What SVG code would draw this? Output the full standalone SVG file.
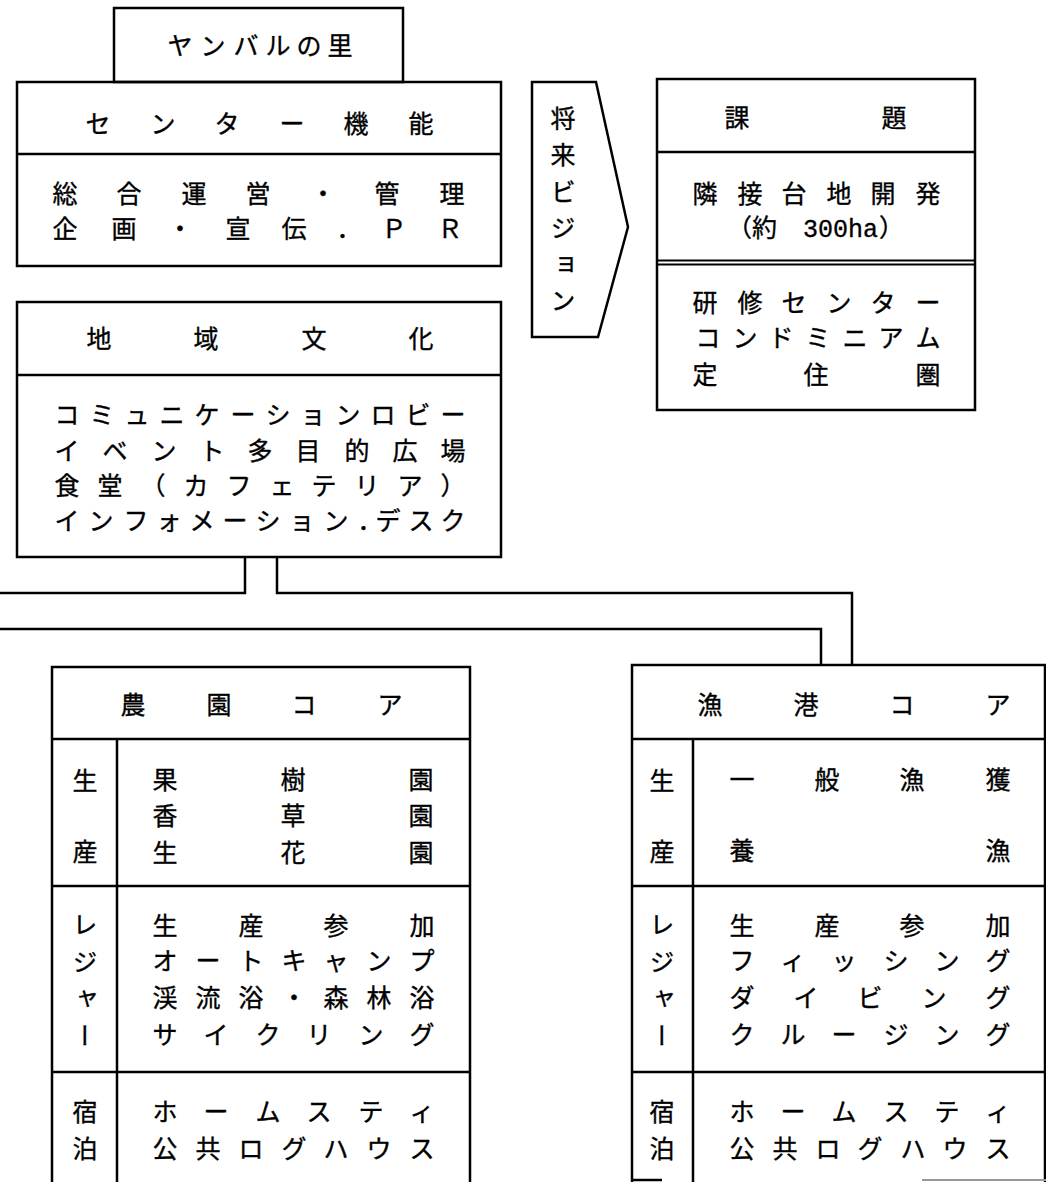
<svg xmlns="http://www.w3.org/2000/svg" width="1046" height="1182" viewBox="0 0 1046 1182">
<style>
.b{fill:none;stroke:#000;stroke-width:2.5}
.c{fill:none;stroke:#000;stroke-width:2.5}
.t{font-family:"Noto Sans CJK JP","Noto Sans CJK SC",sans-serif;font-size:25px;fill:#000;stroke:#000;stroke-width:0.35;text-anchor:middle}
.v{font-family:"Noto Sans CJK JP","Noto Sans CJK SC",sans-serif;font-size:25px;fill:#000;stroke:#000;stroke-width:0.35;writing-mode:vertical-rl;text-anchor:start}
</style>
<rect width="1046" height="1182" fill="#fff"/>
<g id="connectors">
<path class="c" d="M245,557 V593 H0"/>
<path class="c" d="M277,557 V593 H852 V665"/>
<path class="c" d="M0,629 H821 V665"/>
</g>
<g id="yanbaru">
<rect class="b" x="114" y="8" width="289" height="74"/>
<text class="t" x="180 213 246 278 309 340" y="55">ヤンバルの里</text>
</g>
<g id="center">
<rect class="b" x="17" y="82" width="484" height="184"/>
<line class="b" x1="17" y1="154" x2="501" y2="154"/>
<text class="t" x="98 163 227 292 356 421" y="133">センター機能</text>
<text class="t" x="65 129 194 258 323 387 452" y="203">総合運営・管理</text>
<text class="t" x="65 124 180 238 294 349 394 450" y="238">企画・宣伝．ＰＲ</text>
</g>
<g id="vision">
<polygon class="b" points="532,82 596,82 628,227 598,337 532,337"/>
<text class="v" x="563" y="105.5" letter-spacing="11.6">将来ビジョン</text>
</g>
<g id="kadai">
<rect class="b" x="657" y="79" width="318" height="331"/>
<line class="b" x1="657" y1="152" x2="975" y2="152"/>
<line stroke="#000" stroke-width="1.8" x1="657" y1="260.5" x2="975" y2="260.5"/>
<line stroke="#000" stroke-width="1.8" x1="657" y1="264.5" x2="975" y2="264.5"/>
<text class="t" x="737 894" y="127">課題</text>
<text class="t" x="705 750 794 839 883 928" y="203">隣接台地開発</text>
<text class="t" y="237" style="text-anchor:start"><tspan x="727">（約</tspan><tspan x="803" style="font-family:'Liberation Mono',monospace;font-size:25px">300ha</tspan><tspan x="879">）</tspan></text>
<text class="t" x="705 750 794 839 883 928" y="312">研修センター</text>
<text class="t" x="708 745 781 818 855 891 928" y="347">コンドミニアム</text>
<text class="t" x="705 816 928" y="384">定住圏</text>
</g>
<g id="chiiki">
<rect class="b" x="17" y="302" width="484" height="255"/>
<line class="b" x1="17" y1="375" x2="501" y2="375"/>
<text class="t" x="99 206 314 421" y="348">地域文化</text>
<text class="t" x="67 102 137 172 207 243 278 313 348 383 418 453" y="424">コミュニケーションロビー</text>
<text class="t" x="67 115 164 212 260 308 357 405 453" y="460">イベント多目的広場</text>
<text class="t" x="67 110 153 196 239 282 324 367 410 453" y="495">食堂（カフェテリア）</text>
<text class="t" x="67 101 136 169 202 235 268 302 336 370 388 421 453" y="530">インフォメーション．デスク</text>
</g>
<g id="noen">
<path class="b" d="M52,1182 V667 H470 V1182"/>
<line class="b" x1="52" y1="739" x2="470" y2="739"/>
<line class="b" x1="52" y1="886" x2="470" y2="886"/>
<line class="b" x1="52" y1="1072" x2="470" y2="1072"/>
<line class="b" x1="117" y1="739" x2="117" y2="1182"/>
<text class="t" x="133 219 304 390" y="714">農園コア</text>
<text class="v" x="85" y="767.5" letter-spacing="46">生産</text>
<text class="t" x="165 293 421" y="789">果樹園</text>
<text class="t" x="165 293 421" y="825">香草園</text>
<text class="t" x="165 293 421" y="862">生花園</text>
<text class="v" x="85" y="911.5" letter-spacing="12">レジャー</text>
<text class="t" x="165 251 336 422" y="935">生産参加</text>
<text class="t" x="165 208 251 294 336 379 422" y="970">オートキャンプ</text>
<text class="t" x="165 208 251 294 336 379 422" y="1007">渓流浴・森林浴</text>
<text class="t" x="165 216 268 319 371 422" y="1044">サイクリング</text>
<text class="v" x="85" y="1098.5" letter-spacing="12">宿泊</text>
<text class="t" x="165 216 268 319 371 422" y="1121">ホームスティ</text>
<text class="t" x="165 208 251 294 336 379 422" y="1158">公共ログハウス</text>
</g>
<g id="gyoko">
<path class="b" d="M632,1182 V665 H1045 V1182"/>
<line class="b" x1="632" y1="739" x2="1045" y2="739"/>
<line class="b" x1="632" y1="886" x2="1045" y2="886"/>
<line class="b" x1="632" y1="1072" x2="1045" y2="1072"/>
<line class="b" x1="693" y1="739" x2="693" y2="1182"/>
<line class="b" x1="632" y1="1180" x2="662" y2="1180"/>
<line stroke="#999" stroke-width="2" x1="922" y1="1180" x2="1046" y2="1180"/>
<text class="t" x="710 806 902 998" y="714">漁港コア</text>
<text class="v" x="662" y="767.5" letter-spacing="46">生産</text>
<text class="t" x="742 827 912 998" y="789">一般漁獲</text>
<text class="t" x="742 998" y="860">養漁</text>
<text class="v" x="662" y="911.5" letter-spacing="12">レジャー</text>
<text class="t" x="742 827 912 998" y="935">生産参加</text>
<text class="t" x="742 793 844 896 947 998" y="970">フィッシング</text>
<text class="t" x="742 806 870 934 998" y="1007">ダイビング</text>
<text class="t" x="742 793 844 896 947 998" y="1044">クルージング</text>
<text class="v" x="662" y="1098.5" letter-spacing="12">宿泊</text>
<text class="t" x="742 793 844 896 947 998" y="1121">ホームスティ</text>
<text class="t" x="742 785 828 870 913 955 998" y="1158">公共ログハウス</text>
</g>
</svg>
